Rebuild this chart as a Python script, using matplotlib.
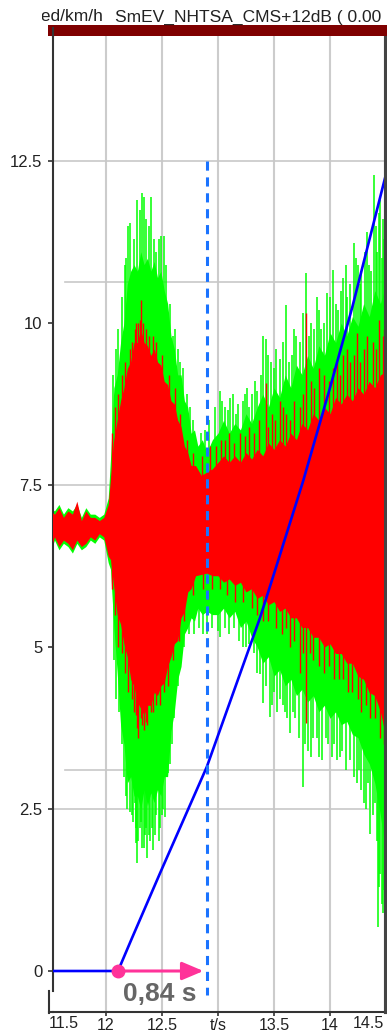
import numpy as np
import matplotlib
matplotlib.use("Agg")
import matplotlib.pyplot as plt
from matplotlib.transforms import Bbox, TransformedBbox
from matplotlib.lines import Line2D
from matplotlib.patches import Rectangle

plt.rcParams['font.family'] = ['Liberation Sans', 'DejaVu Sans']

# ---------------- data ----------------
# green signal: body envelope
tg = [11.47, 11.50, 11.54, 11.58, 11.62, 11.66, 11.70, 11.74, 11.78, 11.82, 11.86, 11.90, 11.94, 11.98, 12.02,
      12.04, 12.07, 12.10, 12.13, 12.16, 12.19, 12.22, 12.25, 12.28, 12.31, 12.34, 12.37, 12.40, 12.43, 12.46,
      12.49, 12.52, 12.55, 12.58, 12.61, 12.64, 12.67, 12.70, 12.73, 12.76, 12.79, 12.82, 12.86, 12.90, 12.95,
      13.00, 13.05, 13.10, 13.15, 13.20, 13.25, 13.30, 13.35, 13.40, 13.45, 13.50, 13.55, 13.60, 13.65, 13.70,
      13.75, 13.80, 13.85, 13.90, 13.95, 14.00, 14.05, 14.10, 14.15, 14.20, 14.25, 14.30, 14.35, 14.40, 14.45,
      14.50]
g_upper = [7.05, 7.15, 7.10, 7.20, 7.05, 7.15, 7.10, 7.20, 7.00, 7.15, 7.05, 7.05, 7.00, 7.05, 7.3,
           7.9, 9.0, 9.2, 9.7, 10.0, 10.6, 10.8, 10.9, 10.8, 11.1, 10.9, 11.0, 10.8, 10.95, 10.7,
           10.8, 10.5, 10.3, 9.8, 9.6, 9.2, 9.2, 8.8, 8.7, 8.3, 8.35, 8.1, 8.2, 8.0, 8.2,
           8.3, 8.5, 8.3, 8.45, 8.35, 8.6, 8.45, 8.7, 8.9, 8.7, 9.0, 8.85, 9.2, 9.0, 9.35,
           9.2, 9.5, 9.3, 9.65, 9.5, 9.85, 9.7, 10.0, 9.8, 10.1, 9.95, 10.3, 10.1, 10.5, 10.3,
           10.6]
g_lower = [6.6, 6.45, 6.65, 6.5, 6.6, 6.55, 6.45, 6.6, 6.5, 6.55, 6.65, 6.6, 6.7, 6.65, 6.3,
           6.2, 5.3, 4.6, 3.8, 3.5, 2.9, 3.0, 2.7, 2.7, 2.5, 2.8, 2.55, 2.75, 2.6, 2.8,
           2.7, 3.0, 3.0, 3.7, 4.0, 4.5, 4.7, 5.2, 5.3, 5.45, 5.4, 5.6, 5.5, 5.55, 5.5,
           5.5, 5.6, 5.45, 5.55, 5.3, 5.4, 5.15, 5.0, 4.75, 4.85, 4.55, 4.65, 4.4, 4.5, 4.25,
           4.35, 4.15, 4.25, 4.0, 4.1, 3.9, 4.0, 3.8, 3.85, 3.65, 3.6, 3.35, 3.2, 2.9, 2.4,
           1.8]
# green signal: upward spikes
g_spk_up_t = [12.06, 12.09, 12.11, 12.14, 12.17, 12.18,
              12.20, 12.215, 12.25, 12.28, 12.30, 12.325, 12.335, 12.36, 12.38, 12.40, 12.43, 12.45, 12.47,
              12.49, 12.52, 12.54, 12.57, 12.60, 12.62, 12.64, 12.66, 12.69, 12.72, 12.75, 12.78, 12.85,
              12.88, 12.92, 12.97, 13.02, 13.04, 13.06, 13.09, 13.11, 13.13, 13.16, 13.18, 13.22, 13.24,
              13.26, 13.28, 13.30, 13.33, 13.35, 13.38, 13.40, 13.43, 13.45, 13.47, 13.50, 13.52, 13.55,
              13.58, 13.61, 13.63, 13.66, 13.68, 13.70, 13.73, 13.76, 13.79, 13.81, 13.83, 13.86, 13.88,
              13.90, 13.92, 13.95, 13.97, 14.00, 14.03, 14.05, 14.07, 14.10, 14.12, 14.14, 14.15, 14.18,
              14.21, 14.23, 14.25, 14.27, 14.28, 14.31, 14.33, 14.35, 14.37, 14.39, 14.41, 14.42, 14.44,
              14.45, 14.46, 14.47, 14.48]
g_spk_up_v = [9.2, 9.6, 9.9, 10.4, 10.9, 11.0,
              11.5, 11.55, 11.3, 11.9, 11.75, 12.0, 11.95, 11.6, 11.5, 11.95, 11.3, 11.1, 11.3,
              11.35, 11.35, 10.9, 10.3, 9.8, 9.9, 9.6, 9.4, 9.3, 8.9, 8.7, 8.5, 8.3,
              8.35, 8.5, 8.7, 8.95, 8.8, 8.7, 8.65, 8.85, 8.9, 8.6, 8.75, 8.8, 8.9,
              9.0, 8.7, 8.9, 9.1, 8.95, 9.2, 9.8, 9.75, 9.5, 9.4, 9.3, 9.6, 9.45,
              9.7, 10.28, 9.4, 9.5, 9.9, 9.8, 9.7, 10.15, 10.77, 9.8, 10.0, 9.9, 10.4,
              10.2, 9.9, 10.0, 10.46, 10.4, 10.82, 10.3, 10.2, 10.5, 10.7, 10.9, 10.4, 10.6,
              11.23, 11.0, 10.9, 10.6, 10.8, 11.1, 11.4, 10.9, 10.8, 12.29, 11.5, 11.1, 11.7,
              11.9, 11.0, 11.6, 11.29]
# green signal: downward spikes
g_spk_dn_t = [12.07, 12.09, 12.12, 12.14, 12.16, 12.175, 12.185, 12.21, 12.23, 12.24, 12.255, 12.265, 12.27,
              12.28, 12.29, 12.30, 12.31, 12.32, 12.335, 12.345, 12.355, 12.37, 12.38, 12.39, 12.41, 12.42,
              12.44, 12.45, 12.47, 12.48, 12.50, 12.51, 12.53, 12.555, 12.57, 12.59, 12.61, 12.62, 12.64,
              12.66, 12.70, 12.74, 12.79, 12.83, 12.87, 12.90, 12.95, 13.00, 13.02, 13.06, 13.10, 13.14,
              13.19, 13.22, 13.25, 13.28, 13.32, 13.35, 13.375, 13.405, 13.43, 13.46, 13.48, 13.50, 13.53,
              13.55, 13.58, 13.60, 13.62, 13.64, 13.67, 13.69, 13.72, 13.76, 13.78, 13.80, 13.83, 13.85,
              13.88, 13.90, 13.93, 13.96, 13.98, 14.02, 14.04, 14.06, 14.09, 14.11, 14.14, 14.18, 14.21,
              14.24, 14.26, 14.28, 14.30, 14.32, 14.34, 14.36, 14.38, 14.40, 14.42, 14.43, 14.44, 14.45,
              14.46, 14.47, 14.48]
g_spk_dn_v = [4.8, 4.2, 4.0, 3.5, 3.0, 2.7, 2.5, 2.45, 2.4, 2.3, 2.6, 2.2, 1.97,
              1.66, 2.0, 2.2, 2.3, 1.9, 1.9, 2.1, 2.2, 1.75, 2.1, 2.0, 2.2, 1.87,
              2.1, 2.4, 2.0, 2.2, 2.4, 2.5, 2.38, 3.05, 3.2, 3.5, 3.9, 4.2, 4.4,
              4.75, 5.0, 5.2, 5.2, 5.3, 5.2, 5.2, 5.3, 5.25, 5.16, 5.3, 5.2, 5.3,
              5.1, 5.0, 5.0, 5.05, 4.9, 4.6, 4.59, 4.13, 4.4, 3.92, 4.1, 4.3, 4.0,
              4.2, 4.1, 4.0, 3.9, 3.67, 4.0, 3.9, 3.6, 2.84, 3.5, 3.4, 3.3, 3.6,
              3.6, 3.3, 3.25, 3.6, 3.5, 3.3, 3.5, 3.25, 3.3, 3.4, 3.1, 3.25, 3.0,
              2.9, 3.1, 2.8, 2.59, 2.5, 2.9, 2.12, 2.4, 2.6, 2.0, 0.68, 1.3, 1.5,
              1.04, 0.9, 1.25]

# red signal: body envelope
tr = [11.47, 11.50, 11.54, 11.58, 11.62, 11.66, 11.70, 11.74, 11.78, 11.82, 11.86, 11.90, 11.94, 11.98, 12.02,
      12.04, 12.065, 12.10, 12.13, 12.16, 12.19, 12.22, 12.25, 12.28, 12.31, 12.34, 12.37, 12.40, 12.43, 12.46,
      12.49, 12.52, 12.55, 12.58, 12.61, 12.64, 12.67, 12.70, 12.73, 12.76, 12.80, 12.85, 12.90, 12.95,
      13.00, 13.05, 13.10, 13.15, 13.20, 13.25, 13.30, 13.35, 13.40, 13.45, 13.50, 13.55, 13.60, 13.65, 13.70,
      13.75, 13.80, 13.85, 13.90, 13.95, 14.00, 14.05, 14.10, 14.15, 14.20, 14.25, 14.30, 14.35, 14.40, 14.45,
      14.50]
r_upper = [7.0, 7.1, 7.05, 7.15, 7.0, 7.1, 7.05, 7.25, 6.95, 7.1, 7.0, 7.0, 6.95, 7.0, 7.2,
           7.6, 8.15, 8.5, 8.8, 9.0, 9.3, 9.4, 9.7, 9.7, 9.9, 9.7, 9.65, 9.5, 9.6, 9.4,
           9.35, 9.1, 9.05, 8.8, 8.75, 8.5, 8.4, 8.1, 8.0, 7.8, 7.8, 7.65, 7.7, 7.75,
           7.85, 7.95, 7.85, 7.95, 7.85, 8.0, 7.9, 8.05, 7.95, 8.15, 8.05, 8.2, 8.1, 8.3, 8.2,
           8.45, 8.35, 8.6, 8.5, 8.7, 8.6, 8.85, 8.75, 8.9, 8.8, 9.0, 8.9, 9.1, 9.0, 9.2,
           9.25]
r_lower = [6.65, 6.5, 6.7, 6.55, 6.65, 6.6, 6.5, 6.65, 6.55, 6.6, 6.7, 6.65, 6.75, 6.7, 6.4,
           6.35, 6.0, 5.5, 5.35, 5.05, 4.85, 4.5, 4.4, 4.15, 4.05, 3.95, 4.1, 4.1, 4.3, 4.25,
           4.4, 4.45, 4.7, 4.85, 5.05, 5.1, 5.45, 5.55, 5.85, 5.9, 6.1, 6.12, 6.14, 6.1,
           6.1, 6.0, 6.05, 5.95, 6.0, 5.85, 5.9, 5.75, 5.8, 5.65, 5.7, 5.55, 5.6, 5.45, 5.45,
           5.3, 5.3, 5.15, 5.15, 5.0, 5.05, 4.9, 4.9, 4.75, 4.75, 4.55, 4.5, 4.3, 4.25, 4.0,
           3.6]
r_spk_up_t = [12.05, 12.08, 12.11, 12.14, 12.17, 12.21, 12.23, 12.26, 12.27, 12.29, 12.30, 12.31, 12.33,
              12.36, 12.38, 12.42, 12.45, 12.50, 12.56, 12.62, 12.66, 12.72, 12.78, 12.86, 12.93, 12.98,
              13.03, 13.06, 13.10, 13.14, 13.20, 13.24, 13.28, 13.32, 13.37, 13.43, 13.45, 13.48, 13.51,
              13.55, 13.58, 13.61, 13.64, 13.68, 13.73, 13.76, 13.79, 13.83, 13.86, 13.90, 13.95, 13.99,
              14.03, 14.06, 14.09, 14.12, 14.15, 14.18, 14.21, 14.24, 14.27, 14.30, 14.33, 14.38, 14.41,
              14.44, 14.47, 14.48]
r_spk_up_v = [8.3, 8.7, 8.9, 9.2, 9.4, 9.6, 9.7, 9.9, 10.0, 10.0, 10.05, 10.36, 10.0,
              9.9, 9.8, 9.8, 9.7, 9.5, 9.2, 9.0, 8.6, 8.2, 8.0, 7.95, 8.1, 8.1,
              8.2, 8.2, 8.3, 8.15, 8.3, 8.25, 8.4, 8.3, 8.5, 9.07, 8.4, 8.6, 8.5,
              8.8, 8.7, 8.6, 8.5, 8.8, 8.7, 8.9, 10.15, 9.1, 9.0, 9.3, 9.2, 9.1,
              9.3, 9.4, 9.2, 9.5, 9.6, 9.4, 9.5, 9.84, 9.4, 9.6, 9.8, 9.7, 9.6,
              10.05, 9.8, 9.9]
r_spk_dn_t = [12.05, 12.08, 12.11, 12.14, 12.17, 12.20, 12.23, 12.25, 12.27, 12.28, 12.29, 12.31, 12.32,
              12.34, 12.36, 12.37, 12.40, 12.42, 12.45, 12.48, 12.52, 12.55, 12.60, 12.65, 12.70, 12.78,
              12.87, 12.95, 13.02, 13.08, 13.15, 13.22, 13.30, 13.35, 13.40, 13.45, 13.52, 13.57, 13.61,
              13.64, 13.68, 13.73, 13.76, 13.79, 13.82, 13.85, 13.90, 13.95, 13.99, 14.04, 14.08, 14.12,
              14.16, 14.20, 14.25, 14.28, 14.32, 14.36, 14.40, 14.45, 14.48]
r_spk_dn_v = [5.9, 5.5, 5.0, 4.9, 4.6, 4.3, 4.2, 4.0, 3.95, 3.75, 3.6, 3.9, 3.8,
              3.72, 3.85, 3.8, 4.0, 4.0, 4.1, 4.1, 4.3, 4.4, 4.8, 5.1, 5.4, 5.8,
              5.9, 5.9, 5.9, 5.8, 5.7, 5.7, 5.6, 5.5, 5.4, 5.4, 5.3, 5.2, 5.3,
              5.0, 5.1, 4.6, 4.9, 3.82, 4.9, 4.8, 4.7, 4.6, 4.7, 4.5, 4.5, 4.5,
              4.3, 4.3, 4.2, 4.0, 4.1, 3.9, 3.9, 3.6, 3.5]

# speed (blue)
t_speed = [11.47, 12.107, 12.23, 12.48, 12.90, 13.375, 13.50, 13.76, 14.00, 14.20, 14.48, 14.53]
v_speed = [0.0, 0.0, 0.50, 1.50, 3.15, 5.45, 6.13, 7.56, 9.00, 10.25, 12.16, 12.5]

t_start, t_mark = 12.107, 12.90
delay_label = "0,84 s"

y_ticks = [0, 2.5, 5, 7.5, 10, 12.5]
y_ticklabels = ["0", "2.5", "5", "7.5", "10", "12.5"]
x_ticks = [12, 12.5, 13, 13.5, 14]
x_ticklabels = ["12", "12.5", "t/s", "13.5", "14"]

title_left = "Speed/km/h"
title_right = "SmEV_NHTSA_CMS+12dB ( 0.00"

# ---------------- figure ----------------
W, H = 387, 1033
fig = plt.figure(figsize=(W / 100, H / 100), dpi=100)
fig.patch.set_facecolor("white")

L, R, T, B = 53, 385, 36, 1012
ax = fig.add_axes([L / W, 1 - B / H, (R - L) / W, (B - T) / H])

px_per_s = 112.0
px_per_v = 64.8
x0_px, y0_px = 50, 971   # pixel of t=11.5 and v=0
ax.set_xlim(11.5 + (L - x0_px) / px_per_s, 11.5 + (R - x0_px) / px_per_s)
ax.set_ylim((y0_px - B) / px_per_v, (y0_px - T) / px_per_v)

# grid
for xv in x_ticks:
    ax.axvline(xv, color="#cccccc", lw=1.5, zorder=0)
for yv, a, b in [(12.5, 0.0, 1.0), (7.5, 0.0, 1.0), (2.5, 0.0, 0.95)]:
    ax.axhline(yv, xmin=a, xmax=b, color="#c8c8c8", lw=1.2, zorder=0)
for ypx in (282, 770):
    ax.axhline((y0_px - ypx) / px_per_v, xmin=0.036, xmax=1.0, color="#c8c8c8", lw=1.2, zorder=0)

# green signal
ax.fill_between(tg, g_lower, g_upper, color="#00ff00", lw=0, zorder=2)
ax.vlines(g_spk_up_t, 6.9, g_spk_up_v, color="#00ff00", lw=1.1, zorder=2)
ax.vlines(g_spk_dn_t, 6.9, g_spk_dn_v, color="#00ff00", lw=1.1, zorder=2)
# red signal
ax.fill_between(tr, r_lower, r_upper, color="#ff0000", lw=0, zorder=3)
ax.vlines(r_spk_up_t, 6.9, r_spk_up_v, color="#ff0000", lw=1.0, zorder=3)
ax.vlines(r_spk_dn_t, 6.9, r_spk_dn_v, color="#ff0000", lw=1.0, zorder=3)

# speed line
ax.plot(t_speed, v_speed, color="#0000ff", lw=1.9, zorder=5)

# dashed marker line
ax.plot([t_mark, t_mark], [12.5, (y0_px - 995) / px_per_v], color="#1a73ff", lw=2.2,
        linestyle=(0, (3.0, 2.2)), zorder=6, clip_on=False)

# delay arrow
ax.annotate("", xy=(t_mark - 0.03, 0), xytext=(t_start, 0),
            arrowprops=dict(arrowstyle="-|>,head_length=1.3,head_width=0.55", color="#ff3399", lw=2.2,
                            shrinkA=0, shrinkB=0), zorder=7)
ax.plot([t_start], [0], "o", color="#ff3399", ms=9, zorder=8)
ax.text((t_start + t_mark) / 2 - 0.02, (y0_px - 994) / px_per_v, delay_label, ha="center", va="center",
        fontsize=19, fontweight="bold", color="#666666", zorder=8)

# spines
ax.spines["top"].set_visible(False)
ax.spines["left"].set_color("#333333")
ax.spines["left"].set_linewidth(1.5)
ax.spines["left"].set_bounds((y0_px - 991) / px_per_v, (y0_px - T) / px_per_v)
ax.spines["bottom"].set_color("#333333")
ax.spines["bottom"].set_linewidth(1.5)
ax.spines["right"].set_color("#444444")
ax.spines["right"].set_linewidth(2.2)

# ticks
ax.set_yticks(y_ticks)
ax.set_yticklabels(y_ticklabels)
ax.set_xticks(x_ticks)
ax.set_xticklabels(x_ticklabels)
ax.tick_params(axis="y", direction="out", length=3.5, width=1.2, color="#333333", pad=4,
               labelsize=12, labelcolor="#222222")
ax.tick_params(axis="x", direction="out", length=3, width=1.2, color="#333333", pad=1,
               labelsize=11.5, labelcolor="#222222")

# right-side tick marks (no labels visible)
axr = ax.twinx()
axr.set_ylim(ax.get_ylim())
axr.set_yticks([(y0_px - p) / px_per_v for p in (158, 282, 406, 530, 654, 775, 896)])
axr.set_yticklabels([])
axr.tick_params(axis="y", direction="out", length=4, width=1.2, color="#333333")
for s in ("top", "left", "bottom"):
    axr.spines[s].set_visible(False)
axr.spines["right"].set_color("#444444")
axr.spines["right"].set_linewidth(2.2)

# edge x labels, shifted inward as in the reference
fig.text(49 / W, 1 - 1024 / H, "11.5", ha="left", va="center", fontsize=11.5, color="#222222")
fig.text(384 / W, 1 - 1024 / H, "14.5", ha="right", va="center", fontsize=11.5, color="#222222")

# broken lower-left axis piece
fig.add_artist(Line2D([49 / W, 49 / W], [1 - 1013 / H, 1 - 991 / H], color="#333333", lw=1.5))
fig.add_artist(Line2D([49 / W, 53 / W], [1 - 1012 / H, 1 - 1012 / H], color="#333333", lw=1.5))
fig.add_artist(Line2D([53 / W, 53 / W], [1 - 36 / H, 1 - 28 / H], color="#333333", lw=1.5))

# dark red bar on top
fig.add_artist(Rectangle((48 / W, 1 - 36 / H), (W - 48) / W, 11 / H, transform=fig.transFigure,
                         facecolor="#7f0000", edgecolor="none"))

# title (clipped on the left as in the reference)
clip = TransformedBbox(Bbox([[42 / W, 0], [1, 1]]), fig.transFigure)
t1 = fig.text(103 / W, 1 - 21.5 / H, title_left, ha="right", va="baseline", fontsize=12.5, color="#222222")
t1.set_clip_box(clip)
t1.set_clip_on(True)
fig.text(115 / W, 1 - 21.5 / H, title_right, ha="left", va="baseline", fontsize=12.5, color="#222222")

fig.savefig("out.png", dpi=100, facecolor="white")
